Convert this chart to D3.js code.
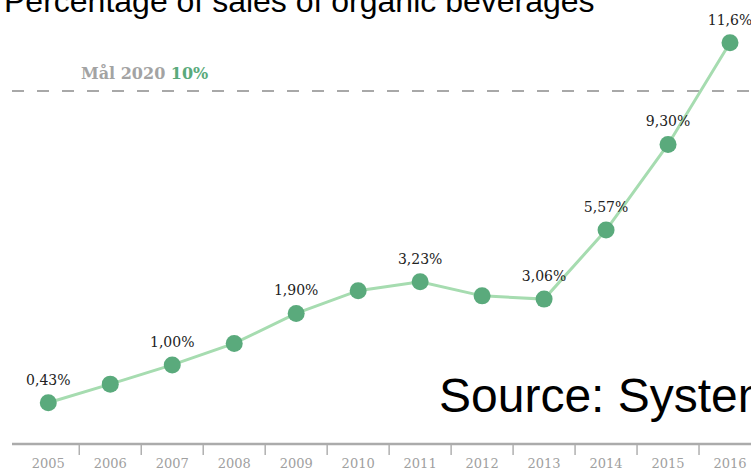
<!DOCTYPE html>
<html>
<head>
<meta charset="utf-8">
<script src="https://cdn.jsdelivr.net/npm/d3@7"></script>
<style>
  body { margin: 0; background: #fff; overflow: hidden; }
  svg { display: block; }
</style>
</head>
<body>
<div id="chart"></div>
<script>
// years on the x axis
var years = ["2005", "2006", "2007", "2008", "2009", "2010", "2011", "2012", "2013", "2014", "2015", "2016"];
// heights of the dots as drawn in the infographic (it is not drawn to scale with its labels)
var shares = [0.43, 1.00, 1.59, 2.25, 3.17, 3.87, 4.14, 3.71, 3.61, 5.73, 8.36, 11.48];
// labels printed above some of the dots
var labels = ["0,43%", "", "1,00%", "", "1,90%", "", "3,23%", "", "3,06%", "5,57%", "9,30%", "11,6%"];
var goal = 10;
var goalLabel = "Mål 2020";
var goalValue = "10%";
var title = "Percentage of sales of organic beverages";
var source = "Source: Systembolaget";

var svgWidth = 751;
var svgHeight = 470;

var graph = d3.select("#chart")
    .append("svg")
    .attr("width", svgWidth)
    .attr("height", svgHeight);

var x = d3.scaleBand()
    .domain(years)
    .range([17.3, 761])
    .padding(0);

var y = d3.scaleLinear()
    .domain([0, 12])
    .range([416.7, 25.86]);

var cx = d => x(d) + x.bandwidth() / 2;

// title, cut off by the top edge like in the original
graph.append("text")
    .attr("x", 4)
    .attr("y", 12)
    .attr("font-family", "Liberation Sans, Arial, sans-serif")
    .attr("font-size", 32)
    .attr("fill", "#000")
    .text(title);

// goal line
graph.append("line")
    .attr("x1", 12)
    .attr("x2", svgWidth)
    .attr("y1", y(goal))
    .attr("y2", y(goal))
    .attr("stroke", "#a8a8a8")
    .attr("stroke-width", 2)
    .attr("stroke-dasharray", "12,13");

var goalText = graph.append("text")
    .attr("x", 81)
    .attr("y", y(goal) - 12)
    .attr("font-family", "DejaVu Serif, serif")
    .attr("font-weight", "bold")
    .attr("font-size", 16)
    .attr("fill", "#a3a3a3");
goalText.append("tspan").text(goalLabel + " ");
goalText.append("tspan").attr("fill", "#5aaa7c").text(goalValue);

// source note, runs off the right edge like in the original
graph.append("text")
    .attr("x", 439)
    .attr("y", 412)
    .attr("font-family", "Liberation Sans, Arial, sans-serif")
    .attr("font-size", 48)
    .attr("fill", "#000")
    .text(source);

// x axis
var axisG = graph.append("g")
    .attr("transform", "translate(0, 444)");

axisG.append("line")
    .attr("x1", 12)
    .attr("x2", svgWidth)
    .attr("stroke", "#ababab")
    .attr("stroke-width", 2.5);

axisG.selectAll(".sep")
    .data(years.slice(1))
    .enter()
    .append("line")
    .attr("class", "sep")
    .attr("x1", d => x(d))
    .attr("x2", d => x(d))
    .attr("y1", 1)
    .attr("y2", 11)
    .attr("stroke", "#b0b0b0")
    .attr("stroke-width", 1.5);

axisG.selectAll(".yr")
    .data(years)
    .enter()
    .append("text")
    .attr("class", "yr")
    .attr("x", d => cx(d))
    .attr("y", 24)
    .attr("text-anchor", "middle")
    .attr("font-family", "DejaVu Serif, serif")
    .attr("font-size", 13)
    .attr("fill", "#a0a0a0")
    .text(d => d);

// line and dots
var lineGen = d3.line()
    .x((d, i) => cx(years[i]))
    .y(d => y(d));

graph.append("path")
    .datum(shares)
    .attr("d", lineGen)
    .attr("fill", "none")
    .attr("stroke", "#a6dcb0")
    .attr("stroke-width", 3);

graph.selectAll("circle")
    .data(shares)
    .enter()
    .append("circle")
    .attr("cx", (d, i) => cx(years[i]))
    .attr("cy", d => y(d))
    .attr("r", 8.5)
    .attr("fill", "#5aaa7c");

graph.selectAll(".lbl")
    .data(shares)
    .enter()
    .append("text")
    .attr("class", "lbl")
    .attr("x", (d, i) => cx(years[i]))
    .attr("y", d => y(d) - 18)
    .attr("text-anchor", "middle")
    .attr("font-family", "DejaVu Serif, serif")
    .attr("font-size", 14)
    .attr("fill", "#222")
    .text((d, i) => labels[i]);
</script>
</body>
</html>
